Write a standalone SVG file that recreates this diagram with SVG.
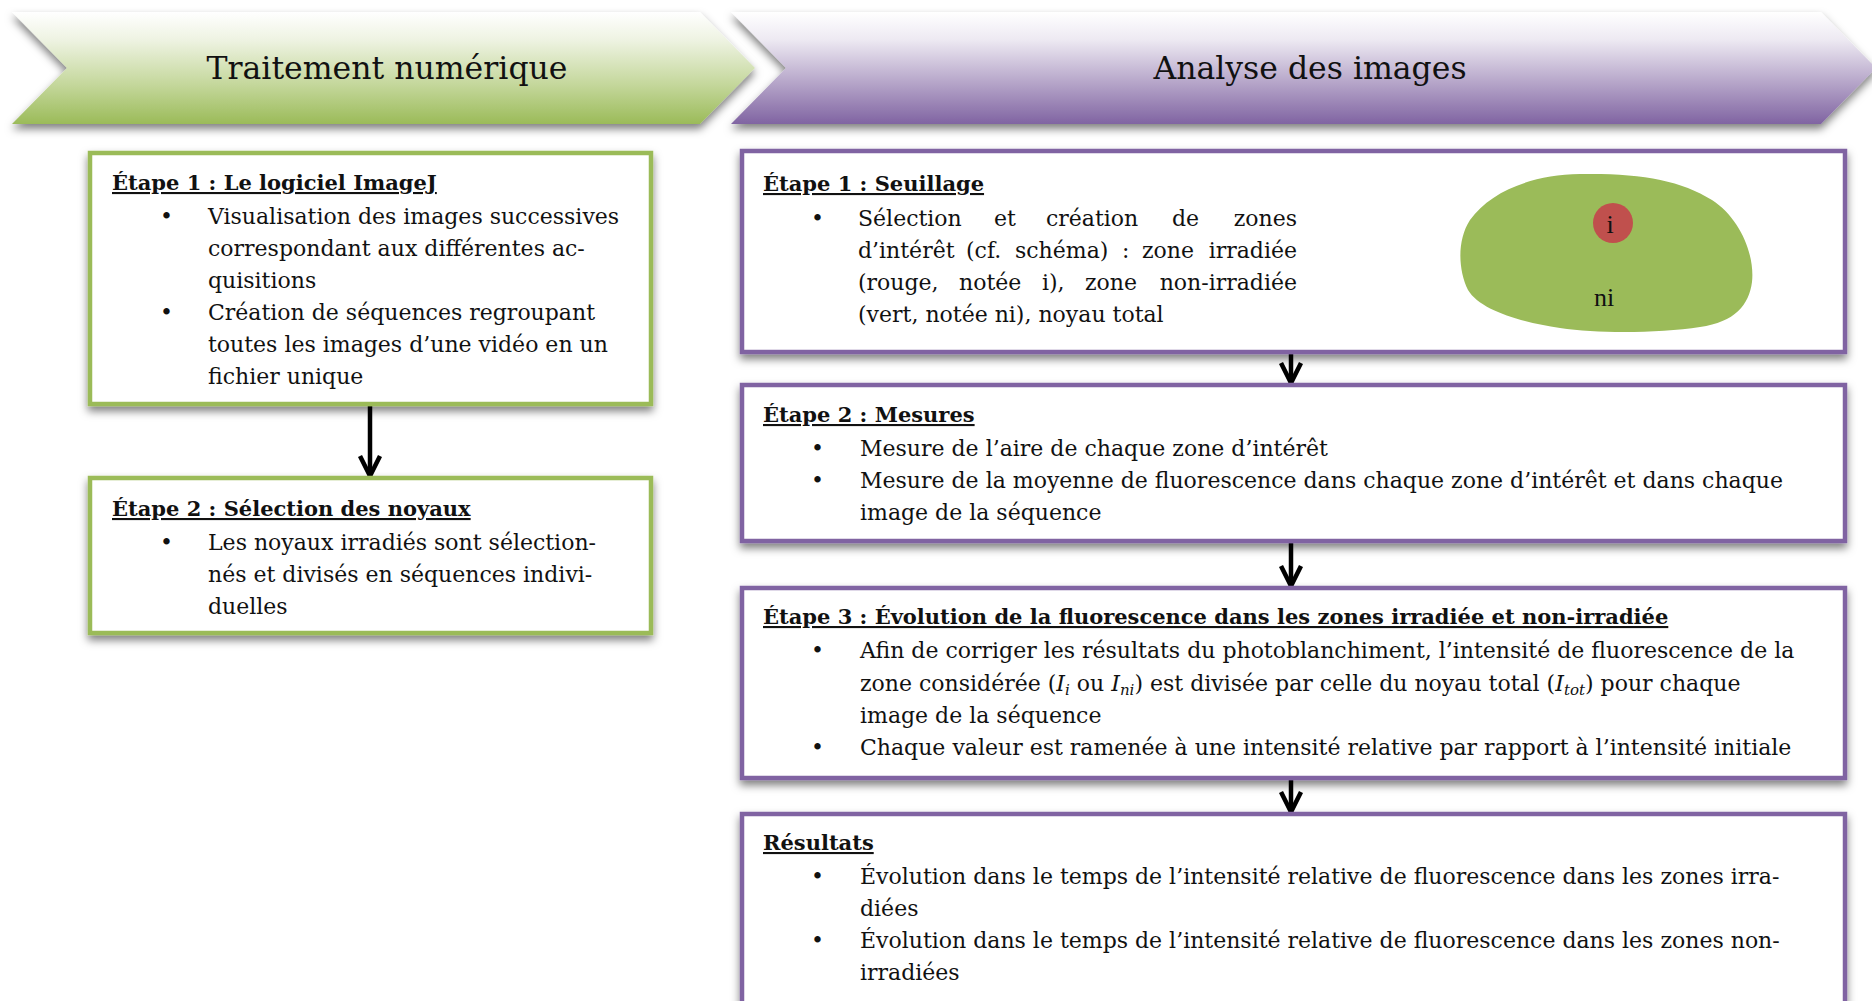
<svg xmlns="http://www.w3.org/2000/svg" width="1872" height="1001" viewBox="0 0 1872 1001">
<style>
.t{font-family:"DejaVu Serif","Liberation Serif",serif;font-size:22px;fill:#111}
.h{font-weight:bold;text-decoration:underline;font-size:21px}
.ttl{font-family:"DejaVu Serif","Liberation Serif",serif;font-size:31.5px;fill:#111;text-anchor:middle}
.gbox{fill:#fff;stroke:#9BBB59;stroke-width:4.5}
.pbox{fill:#fff;stroke:#8064A2;stroke-width:4.5}
.arr{stroke:#000;stroke-width:4.5;fill:none;marker-end:url(#ah)}
.sub{font-size:15px;font-style:italic}
.it{font-style:italic}
.end{text-anchor:end}
.lbl{font-family:"Liberation Serif","DejaVu Serif",serif;font-size:26px;fill:#111;text-anchor:middle}
</style>
<defs>
<linearGradient id="gg" x1="0" y1="0" x2="0" y2="1">
<stop offset="0" stop-color="#ffffff"/>
<stop offset="0.25" stop-color="#EEF3E2"/>
<stop offset="0.65" stop-color="#C4D79B"/>
<stop offset="1" stop-color="#9BBB59"/>
</linearGradient>
<linearGradient id="pg" x1="0" y1="0" x2="0" y2="1">
<stop offset="0" stop-color="#ffffff"/>
<stop offset="0.25" stop-color="#EDE9F2"/>
<stop offset="0.65" stop-color="#B3A2C7"/>
<stop offset="1" stop-color="#8064A2"/>
</linearGradient>
<filter id="sh" x="-5%" y="-10%" width="110%" height="135%">
<feDropShadow dx="0" dy="5" stdDeviation="4" flood-color="#000" flood-opacity="0.5"/>
</filter>
<marker id="ah" markerUnits="userSpaceOnUse" viewBox="-24 -13 26 26" refX="0" refY="0" markerWidth="26" markerHeight="26" orient="auto" overflow="visible">
<path d="M-20,-10 L0,0 L-20,10" fill="none" stroke="#000" stroke-width="4.5" stroke-linejoin="miter"/>
</marker>
</defs>
<rect width="1872" height="1001" fill="#fff"/>

<g id="banner-traitement">
<path d="M12,12 L700,12 L755,68 L700,124 L12,124 L67,68 Z" fill="url(#gg)" filter="url(#sh)"/>
<text class="ttl" x="387" y="79">Traitement numérique</text>
</g>
<g id="banner-analyse">
<path d="M731,12 L1821,12 L1876,68 L1821,124 L731,124 L786,68 Z" fill="url(#pg)" filter="url(#sh)"/>
<text class="ttl" x="1310" y="79">Analyse des images</text>
</g>

<g id="connectors">
<line class="arr" x1="370" y1="405" x2="370" y2="476"/>
<line class="arr" x1="1291" y1="354" x2="1291" y2="383"/>
<line class="arr" x1="1291" y1="543" x2="1291" y2="586"/>
<line class="arr" x1="1291" y1="779" x2="1291" y2="812"/>
</g>

<g id="tn-etape1">
<rect class="gbox" x="90" y="153" width="561" height="251" filter="url(#sh)"/>
<text class="t h" x="112" y="190">Étape 1 : Le logiciel ImageJ</text>
<text class="t" x="160" y="224">•</text>
<text class="t" x="208" y="224">Visualisation des images successives</text>
<text class="t" x="208" y="256">correspondant aux différentes ac-</text>
<text class="t" x="208" y="288">quisitions</text>
<text class="t" x="160" y="320">•</text>
<text class="t" x="208" y="320">Création de séquences regroupant</text>
<text class="t" x="208" y="352">toutes les images d’une vidéo en un</text>
<text class="t" x="208" y="384">fichier unique</text>
</g>

<g id="tn-etape2">
<rect class="gbox" x="90" y="478" width="561" height="155" filter="url(#sh)"/>
<text class="t h" x="112" y="516">Étape 2 : Sélection des noyaux</text>
<text class="t" x="160" y="550">•</text>
<text class="t" x="208" y="550">Les noyaux irradiés sont sélection-</text>
<text class="t" x="208" y="582">nés et divisés en séquences indivi-</text>
<text class="t" x="208" y="614">duelles</text>
</g>

<g id="ai-etape1">
<rect class="pbox" x="742" y="151" width="1103" height="201" filter="url(#sh)"/>
<text class="t h" x="763" y="191">Étape 1 : Seuillage</text>
<text class="t" x="811" y="226">•</text>
<text class="t" x="858" y="226">Sélection</text>
<text class="t" x="994" y="226">et</text>
<text class="t" x="1046" y="226">création</text>
<text class="t" x="1172" y="226">de</text>
<text class="t end" x="1297" y="226">zones</text>
<text class="t" x="858" y="258">d’intérêt</text>
<text class="t" x="966" y="258">(cf.</text>
<text class="t" x="1015" y="258">schéma)</text>
<text class="t" x="1122" y="258">:</text>
<text class="t" x="1142" y="258">zone</text>
<text class="t end" x="1297" y="258">irradiée</text>
<text class="t" x="858" y="290">(rouge,</text>
<text class="t" x="959" y="290">notée</text>
<text class="t" x="1042" y="290">i),</text>
<text class="t" x="1085" y="290">zone</text>
<text class="t end" x="1297" y="290">non-irradiée</text>
<text class="t" x="858" y="322">(vert, notée ni), noyau total</text>
<path d="M1580,174 C1640,173 1680,180 1712,200 C1740,218 1755,255 1752,282 C1749,305 1735,322 1700,327 C1660,333 1600,334 1560,328 C1520,322 1480,310 1468,290 C1458,270 1457,240 1470,220 C1490,192 1530,175 1580,174 Z" fill="#9BBB59"/>
<circle cx="1613" cy="223" r="20" fill="#C0504D"/>
<text class="lbl" x="1610" y="233">i</text>
<text class="lbl" x="1604" y="306">ni</text>
</g>

<g id="ai-etape2">
<rect class="pbox" x="742" y="385" width="1103" height="156" filter="url(#sh)"/>
<text class="t h" x="763" y="422">Étape 2 : Mesures</text>
<text class="t" x="811" y="456">•</text>
<text class="t" x="860" y="456">Mesure de l’aire de chaque zone d’intérêt</text>
<text class="t" x="811" y="488">•</text>
<text class="t" x="860" y="488">Mesure de la moyenne de fluorescence dans chaque zone d’intérêt et dans chaque</text>
<text class="t" x="860" y="520">image de la séquence</text>
</g>

<g id="ai-etape3">
<rect class="pbox" x="742" y="588" width="1103" height="190" filter="url(#sh)"/>
<text class="t h" x="763" y="624">Étape 3 : Évolution de la fluorescence dans les zones irradiée et non-irradiée</text>
<text class="t" x="811" y="658">•</text>
<text class="t" x="860" y="658">Afin de corriger les résultats du photoblanchiment, l’intensité de fluorescence de la</text>
<text class="t" x="860" y="691">zone considérée (<tspan class="it">I</tspan><tspan class="sub" dy="4">i</tspan><tspan dy="-4"> ou </tspan><tspan class="it">I</tspan><tspan class="sub" dy="4">ni</tspan><tspan dy="-4">) est divisée par celle du noyau total (</tspan><tspan class="it">I</tspan><tspan class="sub" dy="4">tot</tspan><tspan dy="-4">) pour chaque</tspan></text>
<text class="t" x="860" y="723">image de la séquence</text>
<text class="t" x="811" y="755">•</text>
<text class="t" x="860" y="755">Chaque valeur est ramenée à une intensité relative par rapport à l’intensité initiale</text>
</g>

<g id="ai-resultats">
<rect class="pbox" x="742" y="814" width="1103" height="200" filter="url(#sh)"/>
<text class="t h" x="763" y="850">Résultats</text>
<text class="t" x="811" y="884">•</text>
<text class="t" x="860" y="884">Évolution dans le temps de l’intensité relative de fluorescence dans les zones irra-</text>
<text class="t" x="860" y="916">diées</text>
<text class="t" x="811" y="948">•</text>
<text class="t" x="860" y="948">Évolution dans le temps de l’intensité relative de fluorescence dans les zones non-</text>
<text class="t" x="860" y="980">irradiées</text>
</g>
</svg>
